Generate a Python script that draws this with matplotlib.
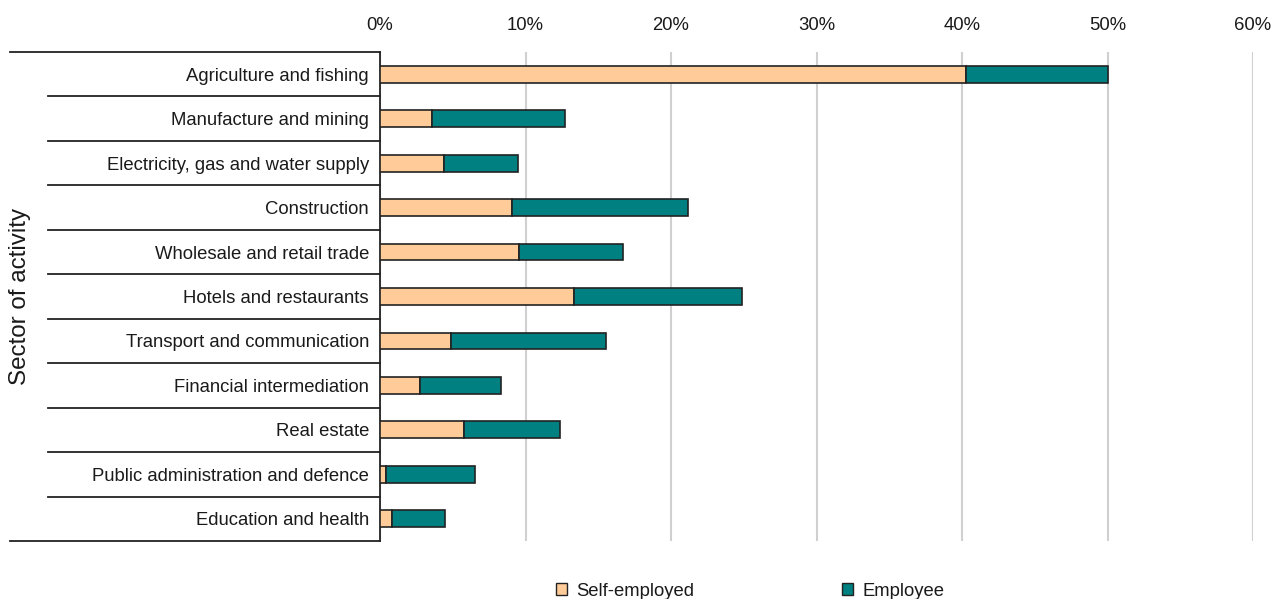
import matplotlib.pyplot as plt
from matplotlib.patches import Patch
from matplotlib.ticker import PercentFormatter
import matplotlib.transforms as mtransforms

plt.rcParams['font.family'] = ['Liberation Sans', 'DejaVu Sans']

sectors = ['Agriculture and fishing', 'Manufacture and mining',
           'Electricity, gas and water supply', 'Construction',
           'Wholesale and retail trade', 'Hotels and restaurants',
           'Transport and communication', 'Financial intermediation',
           'Real estate', 'Public administration and defence',
           'Education and health']
self_employed = [40.3, 3.6, 4.4, 9.1, 9.55, 13.3, 4.9, 2.75, 5.8, 0.4, 0.8]
employee = [9.7, 9.1, 5.1, 12.1, 7.15, 11.6, 10.6, 5.55, 6.6, 6.1, 3.7]

orange = '#FFCC99'
teal = '#008080'
ink = '#1a1a1a'

fig = plt.figure(figsize=(12.72, 5.99), dpi=100)
ax = fig.add_axes([380/1272, 1-541/599, 873/1272, 489/599])

y = range(len(sectors))
ax.barh(y, self_employed, height=0.38, color=orange, edgecolor='#222222', linewidth=1.2, zorder=3)
ax.barh(y, employee, left=self_employed, height=0.38, color=teal, edgecolor='#222222', linewidth=1.2, zorder=3)

ax.set_xlim(0, 60)
ax.set_ylim(len(sectors)-0.5, -0.5)
ax.set_xticks(range(0, 61, 10))
ax.xaxis.set_major_formatter(PercentFormatter(decimals=0))
ax.xaxis.tick_top()
ax.tick_params(axis='x', length=0, labelsize=13.3, pad=13, colors=ink)
ax.tick_params(axis='y', length=0, labelsize=13.3, pad=8, colors=ink)
ax.set_yticks(list(y))
ax.set_yticklabels(sectors)
ax.grid(axis='x', color='#d0d0d0', linewidth=1.5, zorder=0)

for s in ['top', 'right', 'bottom']:
    ax.spines[s].set_visible(False)
ax.spines['left'].set_color('#222222')
ax.spines['left'].set_linewidth(1.3)

# row separators to the left of the axis
trans = mtransforms.blended_transform_factory(ax.transAxes, ax.transData)
for i in range(len(sectors) + 1):
    yy = i - 0.5
    x0 = -0.424 if i in (0, len(sectors)) else -0.380
    ax.plot([x0, 0], [yy, yy], transform=trans, color='#222222', linewidth=1.3, clip_on=False)

fig.text(20/1272, 1-296/599, 'Sector of activity', rotation=90, ha='center', va='center',
         fontsize=17.4, color=ink)

handles = [Patch(facecolor=orange, edgecolor='#222222', label='Self-employed'),
           Patch(facecolor=teal, edgecolor='#222222', label='Employee')]
fig.legend(handles=handles, loc='center', bbox_to_anchor=(750/1272, 1-591/599), ncol=2,
           frameon=False, fontsize=13.3, handlelength=0.6, handleheight=0.6,
           handletextpad=0.5, columnspacing=8.0, borderpad=0, labelcolor=ink)

fig.savefig('out.png', dpi=100)
